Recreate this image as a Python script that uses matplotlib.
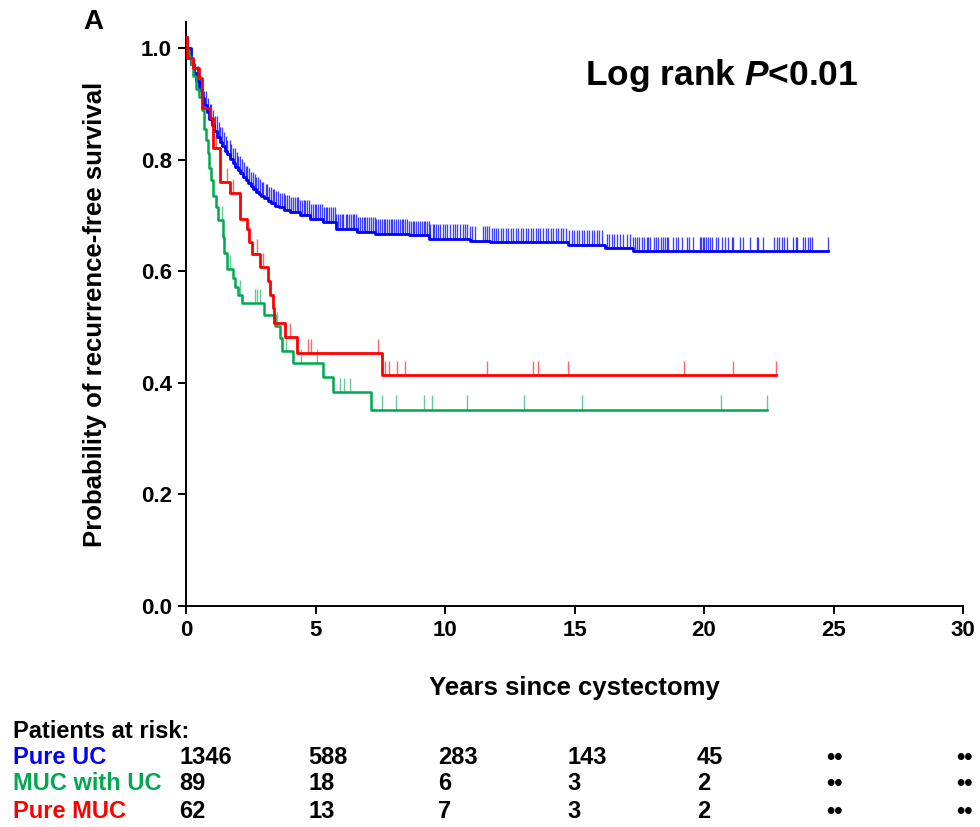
import numpy as np
import matplotlib
matplotlib.use("Agg")
import matplotlib.pyplot as plt
from matplotlib import transforms

plt.rcParams['font.family'] = ['Liberation Sans', 'DejaVu Sans']
plt.rcParams['font.weight'] = 'bold'
plt.rcParams['mathtext.fontset'] = 'custom'
plt.rcParams['mathtext.it'] = 'Liberation Sans:italic:bold'
plt.rcParams['mathtext.rm'] = 'Liberation Sans:bold'

# --- data ---
# Pure UC
uc_t = [0, 0.05, 0.2, 0.3, 0.4, 0.5, 0.6, 0.7, 0.8, 0.9, 1.0, 1.1, 1.2, 1.3, 1.4,
        1.5, 1.6, 1.7, 1.8, 1.9, 2.0, 2.1, 2.2, 2.3, 2.4, 2.5, 2.6, 2.7, 2.8, 2.9,
        3.0, 3.15, 3.3, 3.45, 3.6, 3.8, 4.0, 4.4, 4.8, 5.3, 5.8, 6.6, 7.3, 8.6,
        9.4, 10.97, 11.74, 14.76, 16.18, 17.25]
uc_s = [1.02, 1.0, 0.972, 0.956, 0.942, 0.926, 0.912, 0.898, 0.886, 0.874, 0.863,
        0.852, 0.842, 0.833, 0.825, 0.817, 0.81, 0.802, 0.795, 0.788, 0.782, 0.776,
        0.77, 0.764, 0.759, 0.753, 0.748, 0.743, 0.739, 0.735, 0.731, 0.726, 0.722,
        0.718, 0.715, 0.711, 0.707, 0.702, 0.695, 0.689, 0.677, 0.671, 0.668,
        0.665, 0.659, 0.655, 0.652, 0.648, 0.642, 0.636]
uc_end = 24.8
uc_cens = [0.32, 0.41, 0.48, 0.55, 0.63, 0.70, 0.76, 0.84, 0.91, 0.97, 1.05, 1.12,
           1.18, 1.26, 1.33, 1.39, 1.47, 1.53, 1.60, 1.68, 1.74, 1.81, 1.88, 1.95,
           2.02, 2.09, 2.15, 2.23, 2.30, 2.36, 2.44, 2.51, 2.57, 2.65, 2.72, 2.78,
           2.86, 2.93, 2.99, 3.07, 3.14, 3.20, 3.28, 3.35, 3.41, 3.49, 3.56, 3.62,
           3.70, 3.77, 3.83, 3.91, 3.98,
           4.06, 4.13, 4.19, 4.27, 4.34, 4.40, 4.48, 4.55, 4.61, 4.69, 4.76, 4.82,
           4.90, 4.97, 5.03, 5.11, 5.18, 5.24, 5.32, 5.39, 5.45, 5.53, 5.60, 5.66,
           5.74, 5.81, 5.87, 5.95, 6.02, 6.08, 6.16, 6.23, 6.29, 6.37, 6.44, 6.50,
           6.58, 6.65, 6.71, 6.79, 6.86, 6.92, 7.00, 7.07, 7.13, 7.21, 7.28, 7.34,
           7.42, 7.49, 7.55, 7.63, 7.70, 7.76, 7.84, 7.91, 7.97, 8.05, 8.12, 8.18,
           8.26, 8.33, 8.39, 8.47, 8.54, 8.60, 8.68, 8.75, 8.81, 8.89, 8.96, 9.02,
           9.10, 9.17, 9.23, 9.31, 9.38, 9.44, 9.52, 9.59, 9.65, 9.73,
           9.81, 9.91, 10.0, 10.09, 10.19, 10.30, 10.39, 10.48, 10.58, 10.68, 10.77,
           10.86, 10.97, 11.03, 11.16, 11.45, 11.54, 11.61, 11.71, 11.80, 11.89,
           11.97, 12.06, 12.15, 12.25, 12.36, 12.45, 12.54, 12.64, 12.74, 12.83,
           12.92, 13.02, 13.13, 13.22, 13.31, 13.41, 13.51, 13.60, 13.67, 13.80,
           13.90, 13.99, 14.08, 14.18, 14.29, 14.38, 14.47, 14.57, 14.67, 14.80,
           14.89, 14.98, 15.08, 15.19, 15.28, 15.37, 15.47, 15.57, 15.66, 15.75,
           15.86, 15.96, 16.05, 16.24, 16.35, 16.44, 16.52, 16.63, 16.76, 16.86,
           17.01, 17.14,
           17.25, 17.34, 17.43, 17.50, 17.59, 17.68, 17.81, 17.85, 17.92, 18.07,
           18.15, 18.24, 18.33, 18.43, 18.49, 18.56, 18.62, 18.81, 18.91, 19.01,
           19.14, 19.33, 19.43, 19.56, 19.85, 19.88, 19.95, 20.0, 20.08, 20.17,
           20.23, 20.30, 20.46, 20.55, 20.68, 20.81, 20.91, 21.07, 21.11, 21.39,
           21.52, 21.78, 22.03, 22.10, 22.27, 22.70, 22.81, 22.91, 23.0, 23.09,
           23.19, 23.45, 23.54, 23.60, 23.81, 23.90, 24.0, 24.09, 24.17, 24.80]

# MUC with UC
mix_t = [0, 0.04, 0.12, 0.20, 0.27, 0.38, 0.52, 0.62, 0.68, 0.76, 0.84, 0.90,
         0.98, 1.05, 1.14, 1.25, 1.42, 1.47, 1.57, 1.83, 1.89, 2.02, 2.15, 3.01,
         3.44, 3.63, 3.69, 4.14, 5.30, 5.69, 7.13]
mix_s = [1.02, 0.997, 0.985, 0.973, 0.95, 0.927, 0.913, 0.89, 0.856, 0.836, 0.812,
         0.786, 0.764, 0.736, 0.716, 0.692, 0.662, 0.633, 0.604, 0.588, 0.573,
         0.558, 0.543, 0.522, 0.502, 0.480, 0.458, 0.435, 0.410, 0.383, 0.352]
mix_end = 22.44
mix_cens = [1.38, 1.70, 2.08, 2.66, 2.75, 2.86, 3.50, 3.86, 4.43, 5.07, 5.95, 6.11,
            6.33, 7.58, 8.11, 9.19, 9.49, 10.84, 13.04, 15.29, 20.67, 22.44]

# Pure MUC
muc_t = [0, 0.04, 0.28, 0.50, 0.62, 0.93, 1.05, 1.30, 1.70, 2.08, 2.34, 2.45,
         2.53, 2.86, 3.18, 3.26, 3.34, 3.41, 3.82, 4.30, 7.55]
muc_s = [1.02, 0.983, 0.965, 0.947, 0.893, 0.875, 0.821, 0.760, 0.740, 0.695,
         0.676, 0.653, 0.632, 0.608, 0.583, 0.558, 0.534, 0.508, 0.482, 0.453, 0.414]
muc_end = 22.78
muc_cens = [1.15, 1.57, 1.80, 2.73, 2.98, 4.0, 4.70, 4.83, 7.43, 7.68, 7.85, 8.16,
            8.44, 11.63, 13.41, 13.60, 14.76, 19.23, 21.13, 22.78]

# patients at risk table
risk_times = [0, 5, 10, 15, 20, 25, 30]
uc_risk = ["1346", "588", "283", "143", "45", "••", "••"]
mix_risk = ["89", "18", "6", "3", "2", "••", "••"]
muc_risk = ["62", "13", "7", "3", "2", "••", "••"]

BLUE = "#0000FF"
GREEN = "#00A84F"
RED = "#FF0000"

fig = plt.figure(figsize=(9.8, 8.27), dpi=100)
ax = fig.add_axes([186 / 980, 1 - 606 / 827, 777 / 980, 584 / 827])


def km(t, s, end, cens, color, lw, tick_alpha, tick_lw):
    tt = list(t) + [end]
    ss = list(s) + [s[-1]]
    ax.step(tt, ss, where="post", color=color, lw=lw, zorder=3)
    cens = np.array(cens)
    idx = np.searchsorted(np.array(t), cens, side="right") - 1
    lev = np.array(s)[idx]
    ax.vlines(cens, lev, lev + 0.026, color=color, lw=tick_lw, alpha=tick_alpha, zorder=2)


km(uc_t, uc_s, uc_end, uc_cens, BLUE, 2.0, 0.75, 0.95)
km(mix_t, mix_s, mix_end, mix_cens, GREEN, 1.8, 0.6, 1.0)
km(muc_t, muc_s, muc_end, muc_cens, RED, 2.0, 0.6, 1.0)

ax.set_xlim(0, 30)
ax.set_ylim(0, 1.0475)
ax.set_xticks(range(0, 31, 5))
ax.set_yticks([0, 0.2, 0.4, 0.6, 0.8, 1.0])
ax.set_yticklabels(["0.0", "0.2", "0.4", "0.6", "0.8", "1.0"])
for sp in ["top", "right"]:
    ax.spines[sp].set_visible(False)
for sp in ["left", "bottom"]:
    ax.spines[sp].set_linewidth(1.4)
ax.tick_params(direction="out", length=6, width=1.4, labelsize=16, pad=4)
for lab in ax.get_xticklabels() + ax.get_yticklabels():
    lab.set_fontweight("bold")

fig.text(574 / 980, 1 - 688 / 827, "Years since cystectomy", ha="center", va="center",
         fontsize=18.5, fontweight="bold")
fig.text(95 / 980, 1 - 314 / 827, "Probability of recurrence-free survival",
         rotation=90, ha="center", va="center", fontsize=18.5, fontweight="bold")
fig.text(93 / 980, 1 - 22 / 827, "A", ha="center", va="center", fontsize=20,
         fontweight="bold")
fig.text(722 / 980, 1 - 75 / 827, "Log rank $P$<0.01", ha="center",
         va="center", fontsize=25.5, fontweight="bold")

# patients at risk
fig.text(13 / 980, 1 - 732 / 827, "Patients at risk:", ha="left", va="center",
         fontsize=17, fontweight="bold")
trans = transforms.offset_copy(
    transforms.blended_transform_factory(ax.transData, fig.transFigure),
    fig=fig, x=-7, y=0, units="dots")
rows = [("Pure UC", uc_risk, BLUE, 758), ("MUC with UC", mix_risk, GREEN, 784),
        ("Pure MUC", muc_risk, RED, 811)]
for name, vals, col, ypix in rows:
    yf = 1 - ypix / 827
    fig.text(13 / 980, yf, name, ha="left", va="center", fontsize=17,
             fontweight="bold", color=col)
    for xt, v in zip(risk_times, vals):
        fig.text(xt, yf, v, transform=trans, ha="left", va="center", fontsize=17,
                 fontweight="bold", color="black")

fig.savefig("out.png", dpi=100)
